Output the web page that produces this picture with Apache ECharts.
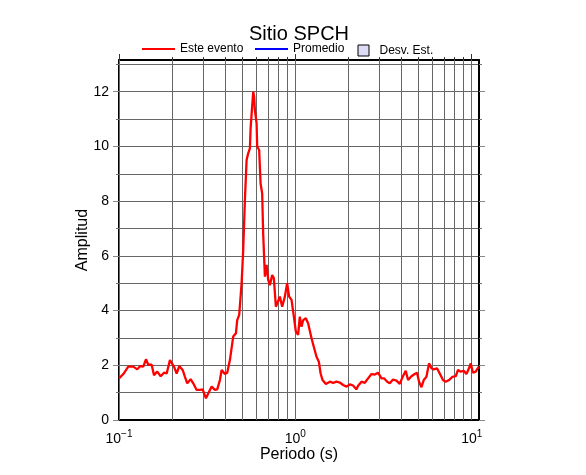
<!DOCTYPE html>
<html>
<head>
<meta charset="utf-8">
<script src="https://cdn.jsdelivr.net/npm/echarts@6/dist/echarts.min.js"></script>
<style>html,body{margin:0;padding:0;background:#fff}#c{width:586px;height:475px}</style>
</head>
<body>
<div id="c"></div>
<script>
// Periods (s) and amplitudes of "Este evento"
const periods = [0.1,0.1058,0.1129,0.1205,0.1270,0.1315,0.1373,0.1422,0.1466,0.1532,
  0.1579,0.1648,0.1723,0.1799,0.1864,0.1945,0.1989,0.2049,0.2123,0.2196,
  0.2296,0.2366,0.2438,0.2548,0.2636,0.2756,0.2877,0.2981,0.3112,0.3206,
  0.3352,0.3499,0.3606,0.3735,0.3819,0.3986,0.4108,0.4255,0.4442,0.4602,
  0.4681,0.4804,0.4957,0.5061,0.5175,0.5291,0.5403,0.5524,0.5575,0.5692,
  0.5767,0.5843,0.5895,0.6029,0.6076,0.6235,0.6350,0.6484,0.6569,0.6720,
  0.6871,0.7017,0.7171,0.7390,0.7555,0.7754,0.7886,0.8170,0.8418,0.8719,
  0.8984,0.9223,0.9517,0.9807,1.0065,1.037,1.060,1.084,1.107,1.147,
  1.182,1.208,1.235,1.272,1.318,1.359,1.390,1.426,1.489,1.569,
  1.638,1.712,1.787,1.866,1.950,2.036,2.126,2.216,2.269,2.372,
  2.476,2.585,2.702,2.821,2.945,3.079,3.192,3.319,3.430,3.581,
  3.744,3.909,4.049,4.227,4.356,4.553,4.754,4.899,5.028,5.188,
  5.346,5.538,5.730,5.912,6.092,6.359,6.587,6.877,7.123,7.437,
  7.775,8.117,8.365,8.630,9.010,9.333,9.654,9.870,10.17,10.54,
  10.86,11.0];
const amplitudes = [1.52,1.68,1.95,1.95,1.85,1.97,1.95,2.22,2.02,2.02,
  1.64,1.77,1.60,1.73,1.70,2.19,2.25,1.95,1.70,1.97,
  1.83,1.58,1.34,1.49,1.34,1.10,1.10,1.12,0.79,0.97,
  1.22,1.10,1.12,1.46,1.83,1.68,1.73,2.19,3.05,3.17,
  3.65,3.84,5.0,6.2,8.04,9.5,9.75,9.93,10.66,10.6,
  12.0,11.8,11.33,10.84,9.99,9.87,8.65,8.28,6.82,5.24,
  5.67,5.12,4.93,5.30,5.18,4.14,4.08,4.51,4.14,4.51,
  5.0,4.51,4.39,3.78,3.23,3.11,3.78,3.41,3.65,3.72,
  3.53,3.47,2.99,2.68,2.31,2.13,1.71,1.46,1.32,1.40,
  1.36,1.40,1.37,1.28,1.22,1.30,1.26,1.12,1.25,1.40,
  1.36,1.52,1.68,1.66,1.73,1.52,1.52,1.40,1.34,1.48,
  1.44,1.32,1.56,1.80,1.46,1.60,1.68,1.73,1.40,1.20,
  1.46,1.58,2.07,1.89,1.85,1.89,1.70,1.46,1.40,1.46,
  1.58,1.60,1.83,1.77,1.80,1.68,1.89,2.07,1.73,1.77,
  1.91,1.95];

// Axis ticks
const xMajorTicks = [0.1, 1, 10];
const xMajorExponents = ['\u22121', '0', '1'];
const xGridTicks = [0.1,0.2,0.3,0.4,0.5,0.6,0.7,0.8,0.9,1,2,3,4,5,6,7,8,9,10];
const yLabelTicks = [0,2,4,6,8,10,12];
const yGridTicks = [0,1,2,3,4,5,6,7,8,9,10,11,12,13];
const xMin = 0.1, xMax = 11, yMin = 0, yMax = 13.16;

const FONT = 'Liberation Sans, Arial, Helvetica, sans-serif';
const GRID_COLOR = '#666666';

const chart = echarts.init(document.getElementById('c'), null, {renderer: 'canvas'});

function xLabel(v) {
  const i = xMajorTicks.findIndex(t => Math.abs(t - v) / t < 1e-6);
  if (i < 0) return '';
  return '{b|10}{s|' + xMajorExponents[i] + '}';
}

const data = periods.map((p, i) => [p, amplitudes[i]]);

const logAxisBase = {type: 'log', logBase: 10, min: xMin, max: xMax, gridIndex: 0};
const valAxisBase = {type: 'value', min: yMin, max: yMax, interval: 1, gridIndex: 0};
const legendText = {fontFamily: FONT, fontSize: 12, color: '#000'};
const LINE_ICON = 'path://M0,0H33V2H0Z';
const BOX_ICON = 'path://M0,0H10V10H0Z';

const hiddenSeries = (xi) => ({
  type: 'line', xAxisIndex: xi, yAxisIndex: 0, data: data, symbol: 'none',
  silent: true, z: 0, lineStyle: {opacity: 0, width: 0}, tooltip: {show: false}
});

chart.setOption({
  animation: false,
  backgroundColor: '#ffffff',
  title: {
    text: 'Sitio SPCH', left: 294, top: 19.5, textAlign: 'center',
    textStyle: {fontFamily: FONT, fontSize: 20, fontWeight: 'normal', color: '#000'}
  },
  legend: [
    {data: [{name: 'Este evento', icon: LINE_ICON, itemStyle: {color: '#ff0000'}}],
     left: 142, top: 43, padding: 0, itemWidth: 33, itemHeight: 14,
     selectedMode: false, textStyle: legendText},
    {data: [{name: 'Promedio', icon: LINE_ICON, itemStyle: {color: '#0000ff'}}],
     left: 255, top: 43, padding: 0, itemWidth: 33, itemHeight: 14,
     selectedMode: false, textStyle: legendText},
    {data: [{name: 'Desv. Est.', icon: BOX_ICON,
             itemStyle: {color: '#dcdcf7', borderColor: '#000', borderWidth: 1}}],
     left: 357.5, top: 44.5, padding: 0, itemWidth: 22, itemHeight: 11,
     selectedMode: false, textStyle: legendText}
  ],
  grid: {left: 119, right: 107, top: 60, bottom: 55, containLabel: false},
  xAxis: [
    Object.assign({}, logAxisBase, {
      position: 'bottom',
      name: 'Periodo (s)', nameLocation: 'middle', nameGap: 27, nameMoveOverlap: false,
      nameTextStyle: {fontFamily: FONT, fontSize: 16, color: '#000'},
      axisLine: {show: true, onZero: false, lineStyle: {color: '#000', width: 2}},
      axisTick: {show: true, inside: true, length: 360, customValues: xGridTicks,
                 lineStyle: {color: GRID_COLOR, width: 1}},
      splitLine: {show: false},
      minorTick: {show: false}, minorSplitLine: {show: false},
      axisLabel: {show: true, customValues: xMajorTicks, margin: 9, formatter: xLabel,
        rich: {
          b: {fontFamily: FONT, fontSize: 14, color: '#000', lineHeight: 17, verticalAlign: 'bottom'},
          s: {fontFamily: FONT, fontSize: 10, color: '#000', lineHeight: 17, verticalAlign: 'top'}
        }}
    }),
    Object.assign({}, logAxisBase, {
      position: 'top',
      axisLine: {show: true, onZero: false, lineStyle: {color: '#000', width: 2}},
      axisTick: {show: true, inside: false, length: 3, customValues: xGridTicks,
                 lineStyle: {color: '#333', width: 1}},
      axisLabel: {show: false}, splitLine: {show: false}
    }),
    Object.assign({}, logAxisBase, {
      position: 'top',
      axisLine: {show: false, onZero: false},
      axisTick: {show: true, inside: false, length: 6, customValues: xMajorTicks,
                 lineStyle: {color: '#333', width: 1}},
      axisLabel: {show: false}, splitLine: {show: false}
    })
  ],
  yAxis: [
    Object.assign({}, valAxisBase, {
      position: 'left',
      name: 'Amplitud', nameLocation: 'middle', nameGap: 28, nameRotate: 90, nameMoveOverlap: false,
      nameTextStyle: {fontFamily: FONT, fontSize: 16, color: '#000'},
      axisLine: {show: true, onZero: false, lineStyle: {color: '#000', width: 2}},
      axisTick: {show: true, inside: false, length: 3, customValues: yGridTicks,
                 lineStyle: {color: '#777', width: 1}},
      splitLine: {show: true, lineStyle: {color: GRID_COLOR, width: 1}},
      axisLabel: {show: true, customValues: yLabelTicks, margin: 10,
                  fontFamily: FONT, fontSize: 14, color: '#000'}
    }),
    Object.assign({}, valAxisBase, {
      position: 'left',
      axisLine: {show: false, onZero: false},
      axisTick: {show: true, inside: false, length: 6, customValues: yLabelTicks,
                 lineStyle: {color: '#888', width: 1}},
      axisLabel: {show: false}, splitLine: {show: false}
    }),
    Object.assign({}, valAxisBase, {
      position: 'right',
      axisLine: {show: true, onZero: false, lineStyle: {color: '#000', width: 2}},
      axisTick: {show: true, inside: false, length: 3, customValues: yGridTicks,
                 lineStyle: {color: '#777', width: 1}},
      axisLabel: {show: false}, splitLine: {show: false}
    }),
    Object.assign({}, valAxisBase, {
      position: 'right',
      axisLine: {show: false, onZero: false},
      axisTick: {show: true, inside: false, length: 6, customValues: yLabelTicks,
                 lineStyle: {color: '#888', width: 1}},
      axisLabel: {show: false}, splitLine: {show: false}
    })
  ],
  series: [
    {name: 'Este evento', type: 'line', xAxisIndex: 0, yAxisIndex: 0, data: data,
     symbol: 'none', smooth: false, z: 5,
     lineStyle: {color: '#ff0000', width: 2.3}, itemStyle: {color: '#ff0000'}},
    {name: 'Promedio', type: 'line', xAxisIndex: 0, yAxisIndex: 0, data: [],
     symbol: 'none', lineStyle: {color: '#0000ff', width: 2}, itemStyle: {color: '#0000ff'}},
    {name: 'Desv. Est.', type: 'line', xAxisIndex: 0, yAxisIndex: 0, data: [],
     symbol: 'none', lineStyle: {color: '#dcdcf7', width: 0}, itemStyle: {color: '#dcdcf7'}},
    hiddenSeries(1),
    hiddenSeries(2)
  ]
});
</script>
</body>
</html>
